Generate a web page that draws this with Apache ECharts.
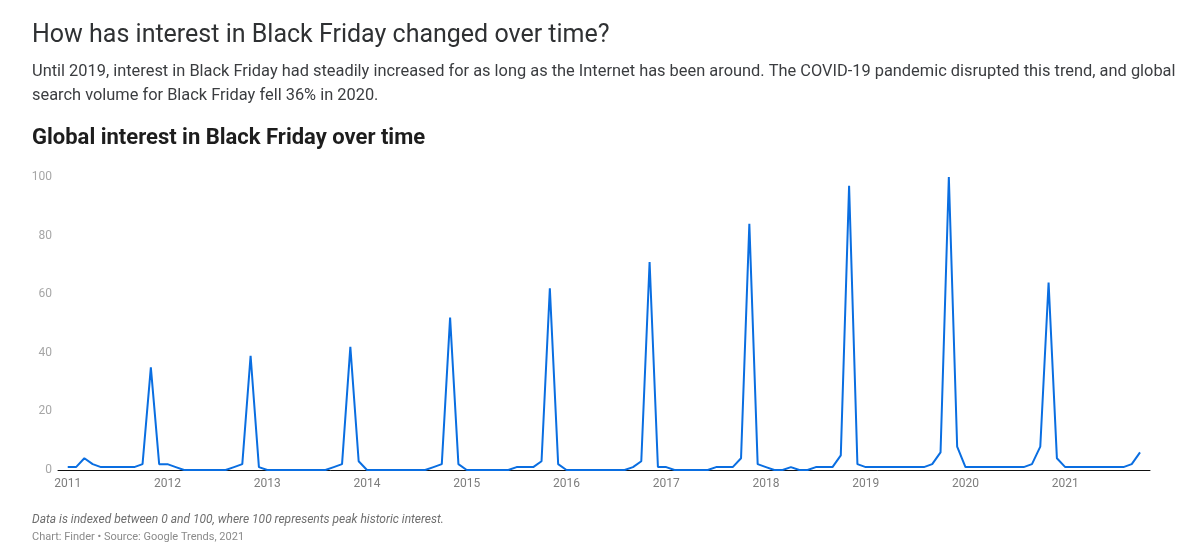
<!DOCTYPE html>
<html>
<head>
<meta charset="utf-8">
<script src="https://cdn.jsdelivr.net/npm/echarts@6/dist/echarts.min.js"></script>
<style>
html,body{margin:0;padding:0;background:#fff;}
#chart{width:1192px;height:560px;}
</style>
</head>
<body>
<div id="chart"></div>
<script>
// Monthly Google Trends index, Jan 2011 – Oct 2021
const years = [2011, 2012, 2013, 2014, 2015, 2016, 2017, 2018, 2019, 2020, 2021];
const v2011 = [1, 1, 4, 2, 1, 1, 1, 1, 1, 2, 35, 2];
const v2012 = [2, 1, 0, 0, 0, 0, 0, 0, 1, 2, 39, 1];
const v2013 = [0, 0, 0, 0, 0, 0, 0, 0, 1, 2, 42, 3];
const v2014 = [0, 0, 0, 0, 0, 0, 0, 0, 1, 2, 52, 2];
const v2015 = [0, 0, 0, 0, 0, 0, 1, 1, 1, 3, 62, 2];
const v2016 = [0, 0, 0, 0, 0, 0, 0, 0, 1, 3, 71, 1];
const v2017 = [1, 0, 0, 0, 0, 0, 1, 1, 1, 4, 84, 2];
const v2018 = [1, 0, 0, 1, 0, 0, 1, 1, 1, 5, 97, 2];
const v2019 = [1, 1, 1, 1, 1, 1, 1, 1, 2, 6, 100, 8];
const v2020 = [1, 1, 1, 1, 1, 1, 1, 1, 2, 8, 64, 4];
const v2021 = [1, 1, 1, 1, 1, 1, 1, 1, 2, 6];
const yearValues = [v2011, v2012, v2013, v2014, v2015, v2016, v2017, v2018, v2019, v2020, v2021];
const yTicks = [0, 20, 40, 60, 80, 100];
const xTickYears = years;

const title = 'How has interest in Black Friday changed over time?';
const subtitle = 'Until 2019, interest in Black Friday had steadily increased for as long as the Internet has been around. The COVID-19 pandemic disrupted this trend, and global\nsearch volume for Black Friday fell 36% in 2020.';
const chartTitle = 'Global interest in Black Friday over time';
const note = 'Data is indexed between 0 and 100, where 100 represents peak historic interest.';
const source = 'Chart: Finder \u2022 Source: Google Trends, 2021';

// x = months since Jan of the first year
const firstYear = years[0];
const seriesData = [];
years.forEach((y, i) => {
  yearValues[i].forEach((v, m) => {
    seriesData.push([(y - firstYear) * 12 + m, v]);
  });
});

const FONT = 'Roboto, "Noto Sans", sans-serif';
const chart = echarts.init(document.getElementById('chart'), null, {renderer: 'canvas'});
chart.setOption({
  animation: false,
  backgroundColor: '#ffffff',
  textStyle: {fontFamily: FONT},
  title: [
    {text: title, left: 32, top: 23, padding: 0, textStyle: {fontFamily: FONT, fontSize: 25, fontWeight: 'normal', color: '#2f3133', lineHeight: 25}},
    {text: subtitle, left: 32, top: 60, padding: 0, textStyle: {fontFamily: FONT, fontSize: 16.4, fontWeight: 'normal', color: '#3b3d40', lineHeight: 24}},
    {text: chartTitle, left: 32, top: 127, padding: 0, textStyle: {fontFamily: FONT, fontSize: 22, fontWeight: 'bold', color: '#1d1d1d', lineHeight: 22}},
    {text: note, left: 32, top: 514, padding: 0, textStyle: {fontFamily: FONT, fontSize: 12, fontStyle: 'italic', fontWeight: 'normal', color: '#6e6e6e', lineHeight: 12}},
    {text: source, left: 32, top: 532, padding: 0, textStyle: {fontFamily: FONT, fontSize: 11, fontWeight: 'normal', color: '#8a8a8a', lineHeight: 11}}
  ],
  grid: {left: 58, right: 42, top: 177, bottom: 90, containLabel: false},
  xAxis: {
    type: 'value',
    min: -1.17,
    max: 130.2,
    axisLine: {show: true, onZero: false, lineStyle: {color: '#111111', width: 1}},
    axisTick: {show: false},
    splitLine: {show: false},
    axisLabel: {
      customValues: xTickYears.map(y => (y - firstYear) * 12),
      formatter: v => String(firstYear + Math.round(v / 12)),
      color: '#7d7d7d', fontSize: 12, fontFamily: FONT, margin: 8
    }
  },
  yAxis: {
    type: 'value',
    min: 0, max: 100, interval: 20,
    axisLine: {show: false},
    axisTick: {show: false},
    splitLine: {show: false},
    axisLabel: {
      customValues: yTicks,
      color: '#a6a6a6', fontSize: 12, fontFamily: FONT, margin: 6
    }
  },
  series: [{
    type: 'line',
    data: seriesData,
    showSymbol: false,
    symbol: 'none',
    smooth: false,
    lineStyle: {color: '#0a6ee1', width: 2},
    z: 3
  }]
});
</script>
</body>
</html>
